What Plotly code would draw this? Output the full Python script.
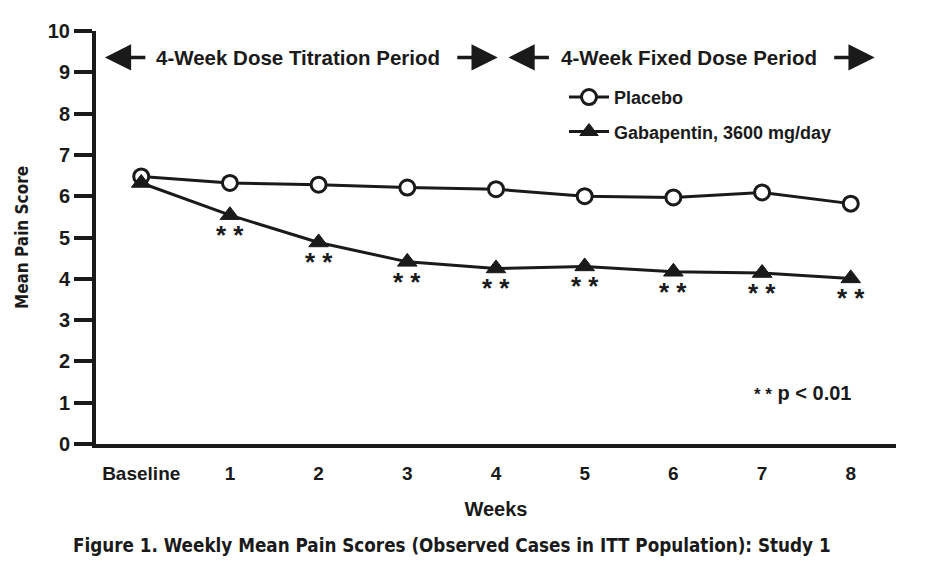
import plotly.graph_objects as go

weeks = [0, 1, 2, 3, 4, 5, 6, 7, 8]
week_labels = ["Baseline", "1", "2", "3", "4", "5", "6", "7", "8"]
placebo = [6.48, 6.32, 6.28, 6.21, 6.17, 6.00, 5.97, 6.09, 5.82]
gabapentin = [6.32, 5.54, 4.88, 4.41, 4.25, 4.30, 4.17, 4.14, 4.01]
signif_weeks = [1, 2, 3, 4, 5, 6, 7, 8]
y_ticks = list(range(0, 11))

BOLD = "Liberation Sans, Arial, sans-serif"
NARROW = "DejaVu Sans Condensed, Liberation Sans Narrow, sans-serif"
INK = "#1a1a1a"

fig = go.Figure()
fig.add_trace(go.Scatter(
    x=weeks, y=placebo, mode="lines+markers", name="<b>Placebo</b>",
    legendgroup="a",
    line=dict(color=INK, width=3),
    marker=dict(symbol="circle", size=15, color="white", line=dict(color=INK, width=3)),
))
fig.add_trace(go.Scatter(
    x=weeks, y=gabapentin, mode="lines+markers", name="<b>Gabapentin, 3600 mg/day</b>",
    legendgroup="b",
    line=dict(color=INK, width=3),
    marker=dict(symbol="triangle-up", size=17, color=INK, line=dict(color=INK, width=1)),
))

annotations = []
for w in signif_weeks:
    annotations.append(dict(
        x=w, y=gabapentin[w], xref="x", yref="y", text="<b>* *</b>", showarrow=False,
        yshift=-20, font=dict(family=BOLD, size=26, color=INK),
    ))

# period arrows
y_arrow = 9.36
for tip, ax in [(-0.41, 42), (4.02, -42), (4.14, 42), (8.27, -42)]:
    annotations.append(dict(
        x=tip, y=y_arrow, xref="x", yref="y", text="", showarrow=True,
        ax=ax, ay=0, arrowhead=2, arrowsize=1.5, arrowwidth=3.5, arrowcolor=INK,
    ))
annotations.append(dict(x=1.77, y=y_arrow, xref="x", yref="y", showarrow=False,
                        text="<b>4-Week Dose Titration Period</b>",
                        font=dict(family=BOLD, size=20.5, color=INK)))
annotations.append(dict(x=6.18, y=y_arrow, xref="x", yref="y", showarrow=False,
                        text="<b>4-Week Fixed Dose Period</b>",
                        font=dict(family=BOLD, size=20.5, color=INK)))
annotations.append(dict(x=7.46, y=1.24, xref="x", yref="y", showarrow=False,
                        text="<b><span style='font-size:17px'>* *</span> p &lt; 0.01</b>",
                        font=dict(family=BOLD, size=20, color=INK)))
annotations.append(dict(x=-0.031, y=-0.245, xref="paper", yref="paper", showarrow=False,
                        xanchor="left", yanchor="middle",
                        text="<b>Figure 1. Weekly Mean Pain Scores (Observed Cases in ITT Population): Study 1</b>",
                        font=dict(family=NARROW, size=18.7, color=INK)))

fig.update_layout(
    width=925, height=571,
    margin=dict(l=88, r=37, t=17, b=135),
    paper_bgcolor="white", plot_bgcolor="white",
    showlegend=True,
    legend=dict(x=0.585, y=0.884, xanchor="left", yanchor="top",
                font=dict(family=BOLD, size=18, color=INK),
                bgcolor="rgba(0,0,0,0)", itemwidth=40, tracegroupgap=8,
                traceorder="grouped"),
    annotations=annotations,
)
fig.update_xaxes(
    range=[-0.51, 8.51], tickmode="array", tickvals=weeks, ticktext=["<b>%s</b>" % t for t in week_labels],
    showline=True, linecolor=INK, linewidth=4, ticks="", showgrid=False, zeroline=False,
    tickfont=dict(family=BOLD, size=19, color=INK), ticklabelstandoff=9,
    title=dict(text="<b>Weeks</b>", font=dict(family=BOLD, size=20, color=INK), standoff=20),
)
fig.update_yaxes(
    range=[0, 10], tickmode="array", tickvals=y_ticks, ticktext=["<b>%d</b>" % t for t in y_ticks],
    showline=True, linecolor=INK, linewidth=4, ticks="outside", ticklen=18, tickwidth=4, tickcolor=INK,
    showgrid=False, zeroline=False,
    tickfont=dict(family=BOLD, size=20, color=INK),
    title=dict(text="<b>Mean Pain Score</b>", font=dict(family=NARROW, size=17, color=INK), standoff=16),
)

fig.write_html("out.html")
